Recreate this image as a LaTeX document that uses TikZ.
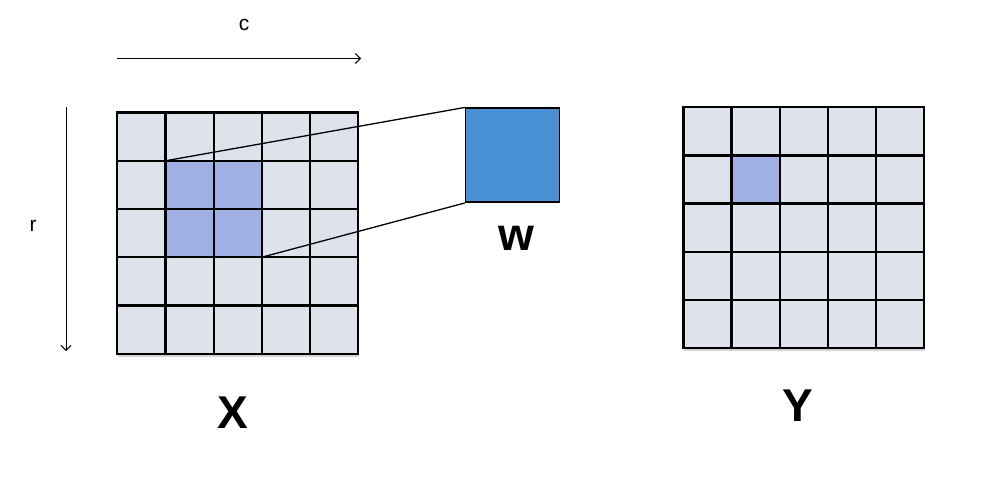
\documentclass[tikz,border=0pt]{standalone}
\usepackage{fontspec}
\setmainfont{Liberation Sans}
\usetikzlibrary{shadows,arrows.meta}
\definecolor{cellgray}{HTML}{DEE2EA}
\definecolor{cellblue}{HTML}{A1B0E4}
\definecolor{kernelblue}{HTML}{4A90D4}
\tikzset{
  gridline/.style={line width=2.2pt,line cap=rect},
  gridfill/.style={fill=cellgray,drop shadow={shadow xshift=1pt,shadow yshift=-3pt,opacity=.35}},
  kernel/.style={draw,line width=1.5pt,fill=kernelblue,minimum size=94pt,inner sep=0pt},
  link/.style={line width=1.3pt},
  axis/.style={-{Straight Barb[length=5pt,width=10pt]},line width=1pt},
  axislabel/.style={font=\fontsize{21}{24}\selectfont},
  biglabel/.style={font=\fontsize{46}{50}\selectfont\bfseries}
}
\begin{document}
\begin{tikzpicture}[x=1pt,y=-1pt]
\useasboundingbox (0,0) rectangle (1002,484);
% axes
\coordinate (c0) at (117,58.5);
\coordinate (c1) at (361,58.5);
\draw[axis] (c0) -- (c1);
\node[axislabel] (clabel) at (244,25) {c};
\coordinate (r0) at (66,107);
\coordinate (r1) at (66,351);
\draw[axis] (r0) -- (r1);
\node[axislabel] (rlabel) at (33,226) {r};
% input X
\begin{scope}[shift={(117.3,112.6)}]
  \fill[gridfill] (0,0) rectangle (241,241);
  \fill[cellblue] (48.2,48.2) rectangle (144.6,144.6);
  \foreach \i in {0,...,5} {
    \draw[gridline] (\i*48.2,0) -- (\i*48.2,241);
    \draw[gridline] (0,\i*48.2) -- (241,\i*48.2);
  }
  \coordinate (xa) at (48.2,48.2);
  \coordinate (xb) at (144.6,144.6);
\end{scope}
\node[biglabel] (xlabel) at (233,413) {X};
% kernel w
\node[kernel] (W) at (512.6,155.2) {};
\draw[link] (xa) -- (W.north west);
\draw[link] (xb) -- (W.south west);
\node[biglabel] (wlabel) at (516,238) {w};
% output Y
\begin{scope}[shift={(683.4,107.4)}]
  \fill[gridfill] (0,0) rectangle (240.5,240.5);
  \fill[cellblue] (48.1,48.1) rectangle (96.2,96.2);
  \foreach \i in {0,...,5} {
    \draw[gridline] (\i*48.1,0) -- (\i*48.1,240.5);
    \draw[gridline] (0,\i*48.1) -- (240.5,\i*48.1);
  }
\end{scope}
\node[biglabel] (ylabel) at (798,406) {Y};
\end{tikzpicture}
\end{document}
